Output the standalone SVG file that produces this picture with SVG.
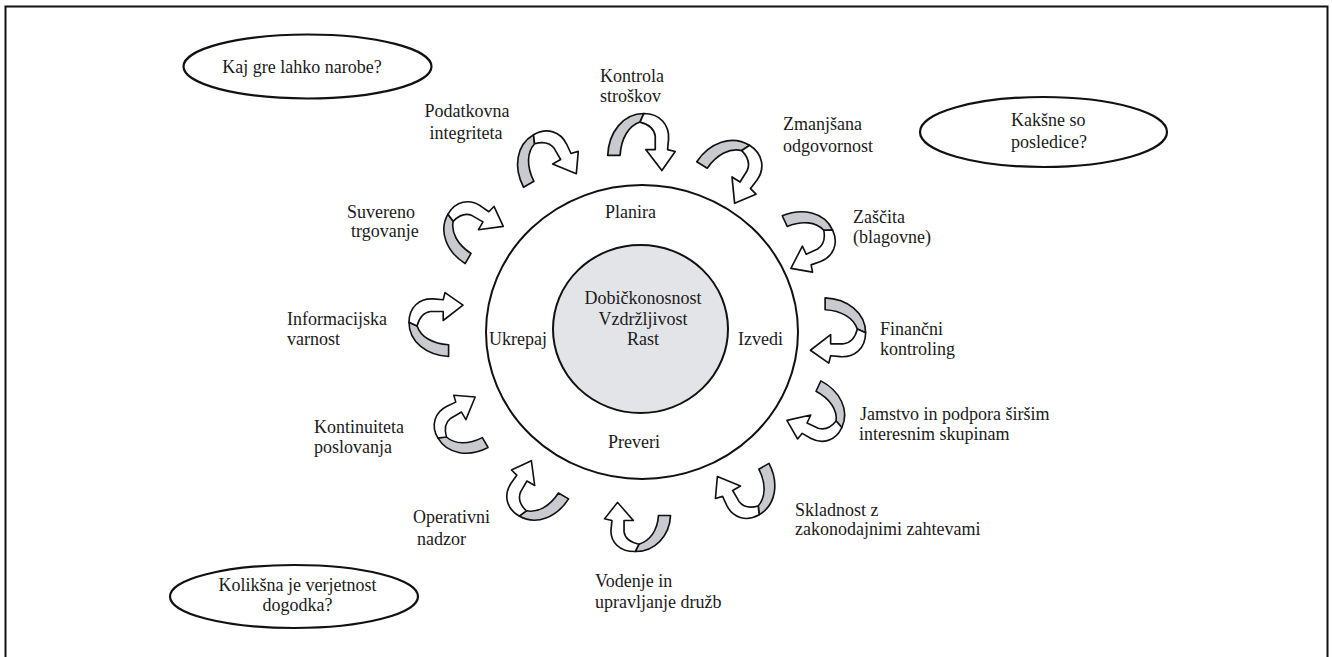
<svg xmlns="http://www.w3.org/2000/svg" width="1332" height="657" viewBox="0 0 1332 657">
  <style>
    text { font-family: "Liberation Serif", "Times New Roman", serif; font-size: 18px; fill: #1a1a1a; }
    .mid { text-anchor: middle; }
    .line { fill: none; stroke: #111; stroke-width: 2; }
    .bubble { fill: #fff; stroke: #111; stroke-width: 2.2; }
    .band-grey { fill: #c9cacf; stroke: #111; stroke-width: 1.8; stroke-linejoin: round; }
    .band-white { fill: #fff; stroke: #111; stroke-width: 1.8; stroke-linejoin: round; }
  </style>
  <defs>
    <g id="uturn">
      <path class="band-grey" d="M -35,14 C -34,-10 -19,-30 3,-30 L -1,-21 C -13,-17 -21,-4 -22,14 Z"/>
      <path class="band-white" d="M 3,-30 C 20,-30 30,-18 29,-3 L 28,8 L 36,10 L 22,30 L 5,8 L 15,8 L 15,-6 C 14,-14 7,-19 -1,-21 Z"/>
    </g>
  </defs>

  <rect x="0" y="0" width="1332" height="657" fill="#fff"/>
  <path class="line" d="M 5.5,660 V 6.5 H 1327.5 V 660" stroke-width="2.6"/>

  <g id="ring">
    <ellipse cx="642" cy="332" rx="156" ry="147" fill="#fff" stroke="#111" stroke-width="2"/>
    <text x="605" y="218">Planira</text>
    <text x="489" y="345">Ukrepaj</text>
    <text x="738" y="345">Izvedi</text>
    <text x="608" y="448">Preveri</text>
  </g>

  <g id="core">
    <ellipse cx="640.5" cy="329" rx="87.5" ry="84" fill="#e3e4e8" stroke="#111" stroke-width="2"/>
    <text class="mid" x="643" y="304">Dobičkonosnost</text>
    <text class="mid" x="643" y="324.5">Vzdržljivost</text>
    <text class="mid" x="643" y="345">Rast</text>
  </g>

  <g id="q-kaj">
    <ellipse class="bubble" cx="307.5" cy="66.5" rx="124" ry="32"/>
    <text class="mid" x="302" y="73">Kaj gre lahko narobe?</text>
  </g>
  <g id="q-kaksne">
    <ellipse class="bubble" cx="1043.5" cy="132" rx="123.5" ry="35"/>
    <text x="1011" y="126">Kakšne so</text>
    <text x="1011" y="147.5">posledice?</text>
  </g>
  <g id="q-koliksna">
    <ellipse class="bubble" cx="294" cy="596.5" rx="124" ry="31.5"/>
    <text class="mid" x="297.5" y="591">Kolikšna je verjetnost</text>
    <text class="mid" x="297.5" y="610.5">dogodka?</text>
  </g>

  <g id="connectors">
    <use href="#uturn" transform="translate(641,142) rotate(0) scale(0.95)"/>
    <use href="#uturn" transform="translate(732,168) rotate(32) scale(0.95)"/>
    <use href="#uturn" transform="translate(807,239) rotate(65) scale(0.9)"/>
    <use href="#uturn" transform="translate(838,330) rotate(90) scale(0.92)"/>
    <use href="#uturn" transform="translate(819,414) rotate(115) scale(0.88)"/>
    <use href="#uturn" transform="translate(748,490) rotate(150) scale(0.9)"/>
    <use href="#uturn" transform="translate(638,527) rotate(180) scale(0.93,0.82)"/>
    <use href="#uturn" transform="translate(535,494) rotate(-150) scale(0.9)"/>
    <use href="#uturn" transform="translate(462,427) rotate(-120) scale(0.88)"/>
    <use href="#uturn" transform="translate(436,325) rotate(-90) scale(0.9)"/>
    <use href="#uturn" transform="translate(470,230) rotate(-60) scale(0.9)"/>
    <use href="#uturn" transform="translate(545,160) rotate(-30) scale(0.92)"/>
  </g>

  <g id="label-kontrola"><text x="600" y="82">Kontrola</text><text x="600" y="102">stroškov</text></g>
  <g id="label-zmanjsana"><text x="783" y="130">Zmanjšana</text><text x="783" y="151.5">odgovornost</text></g>
  <g id="label-zascita"><text x="853" y="223">Zaščita</text><text x="853" y="243">(blagovne)</text></g>
  <g id="label-financni"><text x="880" y="335">Finančni</text><text x="880" y="355">kontroling</text></g>
  <g id="label-jamstvo"><text x="860" y="420">Jamstvo in podpora širšim</text><text x="859" y="440">interesnim skupinam</text></g>
  <g id="label-skladnost"><text x="795" y="516">Skladnost z</text><text x="795" y="535">zakonodajnimi zahtevami</text></g>
  <g id="label-vodenje"><text x="595" y="587">Vodenje in</text><text x="595" y="608">upravljanje družb</text></g>
  <g id="label-operativni"><text x="413" y="523">Operativni</text><text x="417" y="545">nadzor</text></g>
  <g id="label-kontinuiteta"><text x="314" y="433">Kontinuiteta</text><text x="314" y="453">poslovanja</text></g>
  <g id="label-informacijska"><text x="287" y="325">Informacijska</text><text x="287" y="345">varnost</text></g>
  <g id="label-suvereno"><text x="347" y="218">Suvereno</text><text x="351" y="237">trgovanje</text></g>
  <g id="label-podatkovna"><text class="mid" x="467" y="117">Podatkovna</text><text class="mid" x="466" y="139">integriteta</text></g>
</svg>
